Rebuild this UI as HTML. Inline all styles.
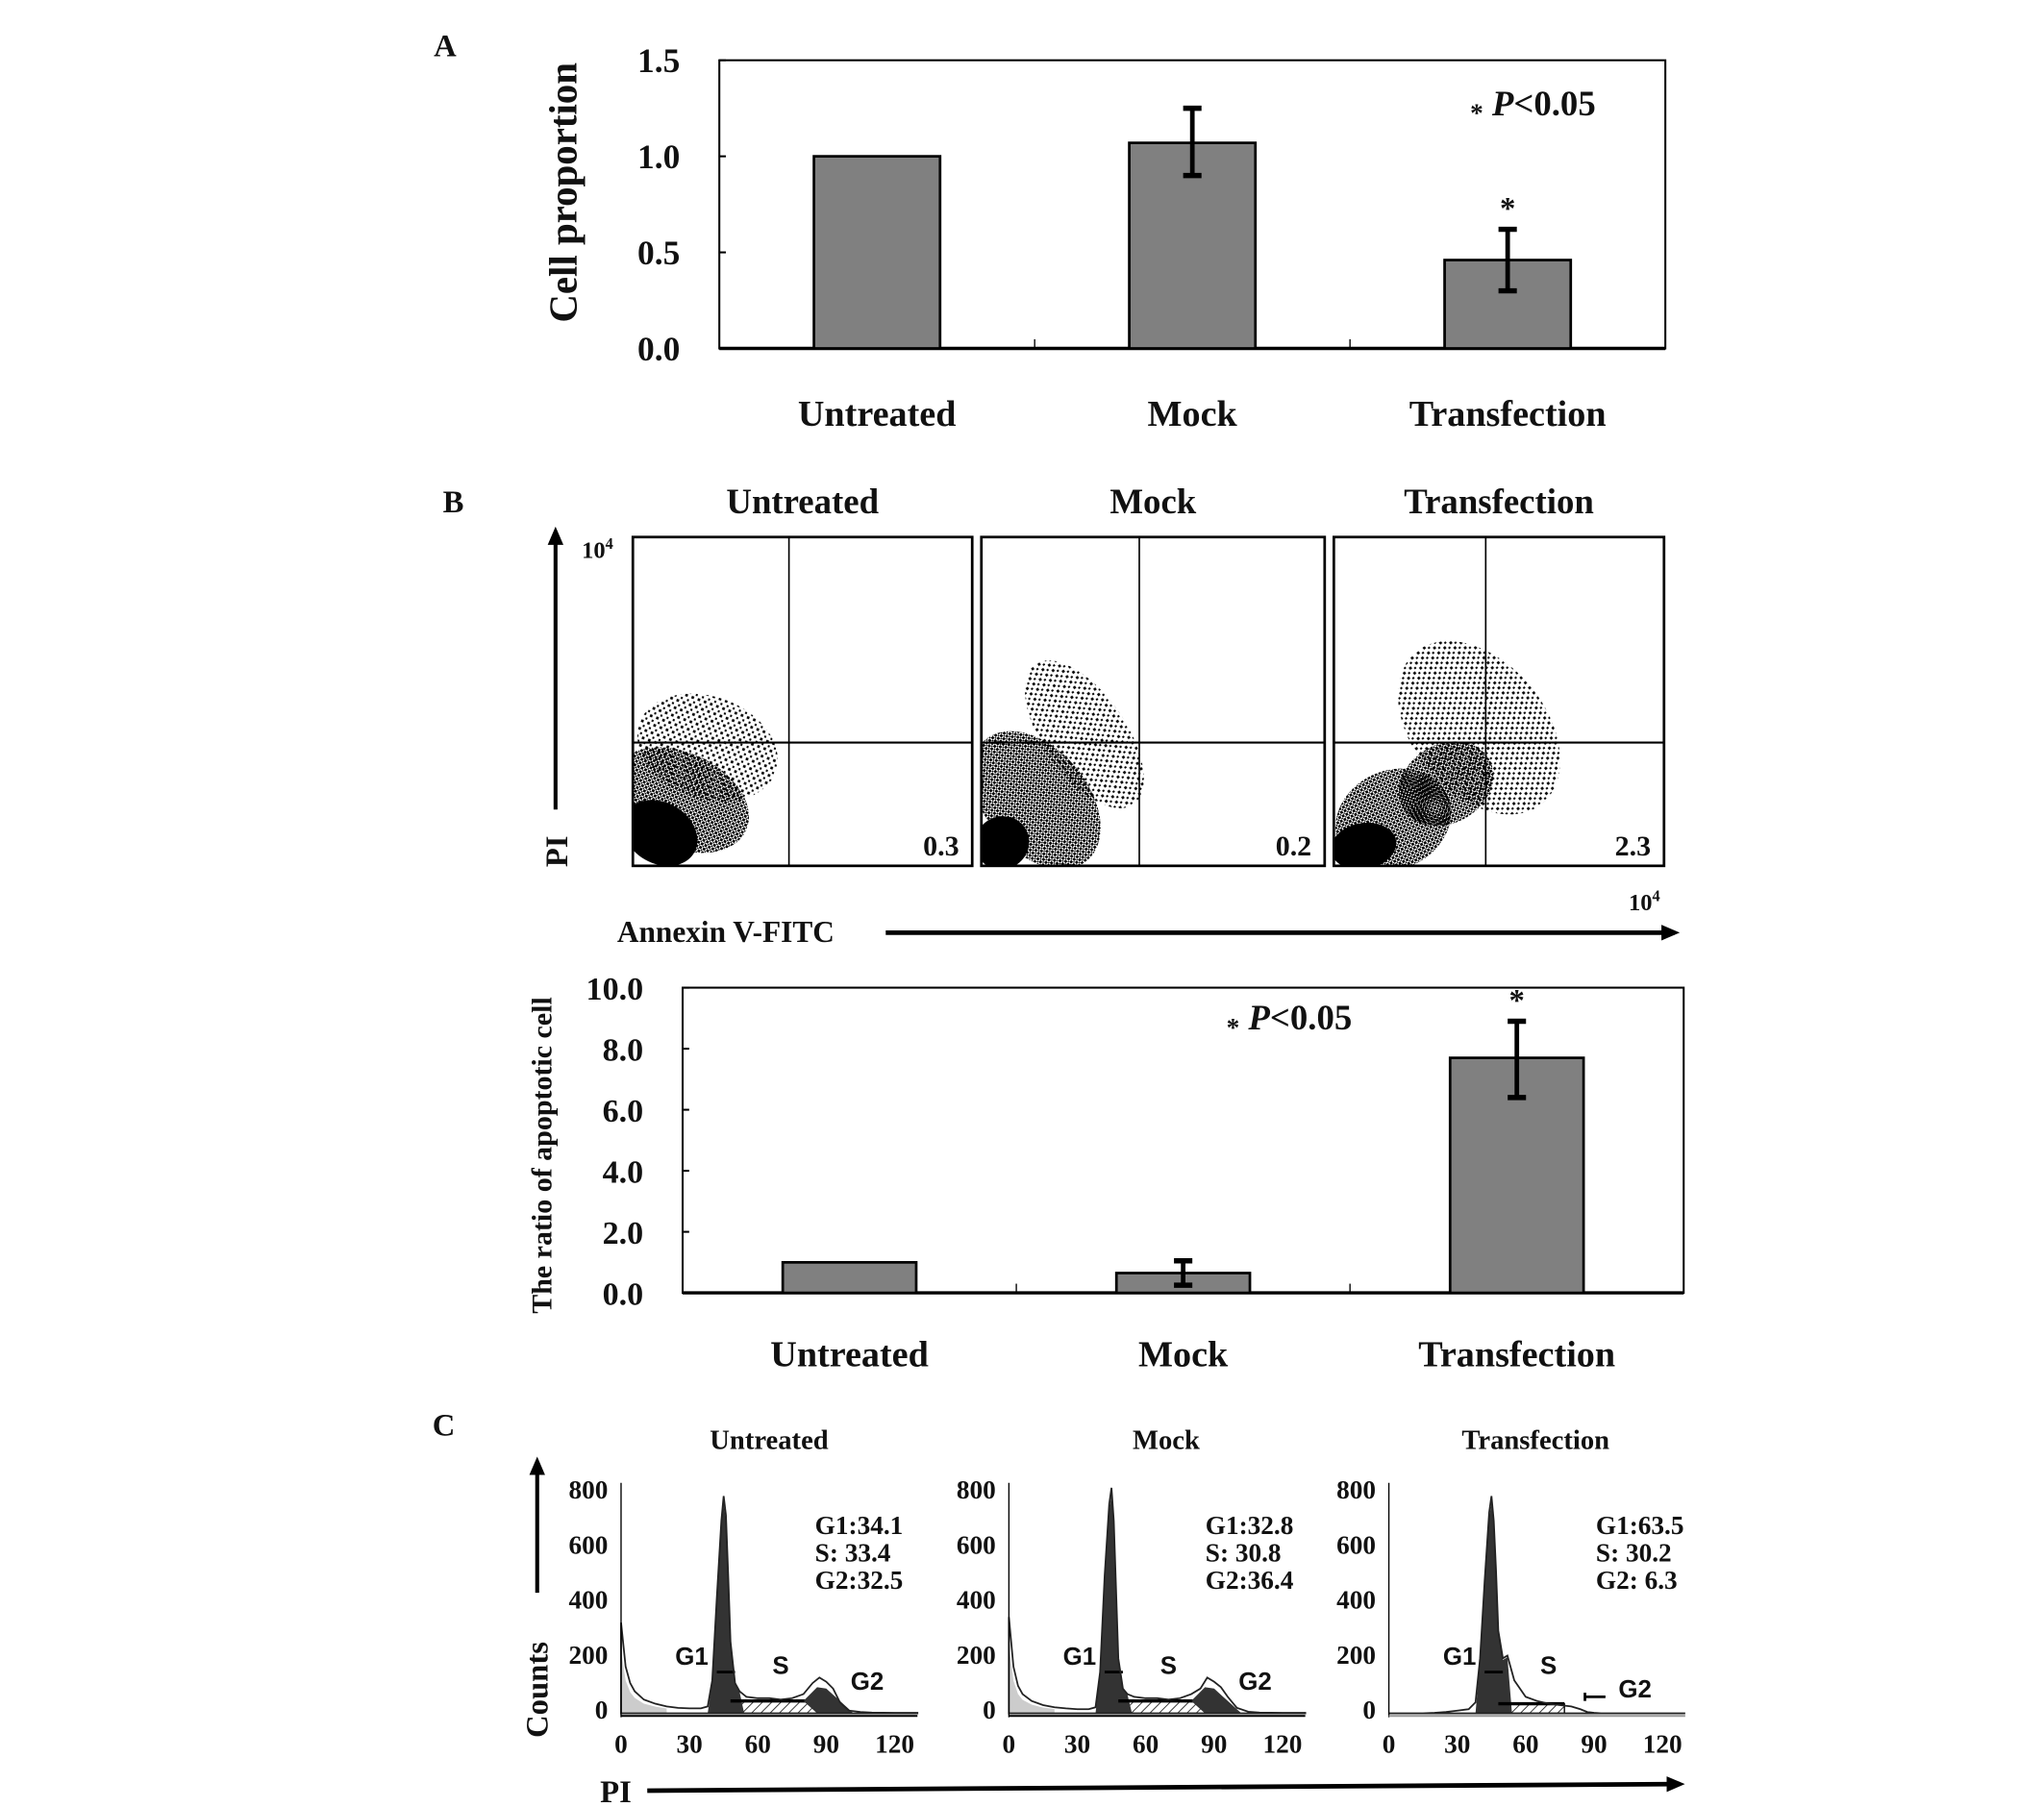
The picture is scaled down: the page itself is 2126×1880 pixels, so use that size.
<!DOCTYPE html>
<html><head><meta charset="utf-8"><style>
html,body{margin:0;padding:0;background:#fff;}
svg{display:block;}
text{font-family:"Liberation Serif",serif;fill:#111;}
.b{font-weight:bold;}
.sans{font-family:"Liberation Sans",sans-serif;font-weight:bold;}
</style></head><body>
<svg id="fig" width="2126" height="1880" viewBox="0 0 1560 1379.5" preserveAspectRatio="none" xmlns="http://www.w3.org/2000/svg">
<defs>
<pattern id="dots" width="3" height="3" patternUnits="userSpaceOnUse"><rect x="0" y="0" width="2" height="2" fill="#000"/><rect x="2" y="2" width="1" height="1" fill="#000"/></pattern>
<pattern id="sparse" width="6" height="5" patternUnits="userSpaceOnUse"><rect x="1" y="1" width="2" height="2" fill="#000"/><rect x="4" y="3.5" width="1.6" height="1.6" fill="#000"/></pattern>
<pattern id="hatch" width="5" height="5" patternUnits="userSpaceOnUse" patternTransform="rotate(45)"><line x1="0" y1="0" x2="0" y2="5" stroke="#222" stroke-width="1.3"/></pattern>
<marker id="ah" markerWidth="14" markerHeight="12" refX="10" refY="6" orient="auto" markerUnits="userSpaceOnUse"><path d="M0,0 L14,6 L0,12 Z" fill="#000"/></marker>
</defs>
<g id="root"></g>
</svg>
<script>
// ---------- Data ----------
const catsA = ["Untreated","Mock","Transfection"];
const valsA = [1.0, 1.07, 0.46];
const errHiA = [null, 1.25, 0.62];
const errLoA = [null, 0.90, 0.30];
const ticksA = [0.0, 0.5, 1.0, 1.5];

const catsB = ["Untreated","Mock","Transfection"];
const valsB = [1.0, 0.65, 7.7];
const errHiB = [null, 1.05, 8.9];
const errLoB = [null, 0.25, 6.4];
const ticksB = [0.0, 2.0, 4.0, 6.0, 8.0, 10.0];

const flowTitles = ["Untreated","Mock","Transfection"];
const flowLR = ["0.3","0.2","2.3"];
// cluster blobs in fraction units (x, y from bottom-left), rx, ry, angle(deg), density
const flowClusters = [
  [[0.22,0.36,0.15,0.22,-70,"sparse"],[0.14,0.2,0.14,0.22,-65,"dots"],[0.08,0.1,0.09,0.12,-60,"solid"]],
  [[0.30,0.40,0.12,0.26,-35,"sparse"],[0.16,0.2,0.15,0.24,-40,"dots"],[0.06,0.07,0.08,0.08,-30,"solid"]],
  [[0.44,0.42,0.20,0.30,-40,"sparse"],[0.34,0.25,0.15,0.12,-30,"dots"],[0.18,0.14,0.18,0.15,-25,"dots"],[0.09,0.06,0.10,0.07,-10,"solid"]]
];

const histTitles = ["Untreated","Mock","Transfection"];
const histStats = [["G1:34.1","S:  33.4","G2:32.5"],["G1:32.8","S:  30.8","G2:36.4"],["G1:63.5","S:  30.2","G2: 6.3"]];
const histYTicks = [0,200,400,600,800];
const histXTicks = [0,30,60,90,120];
const histChannels = [0,2,4,6,10,15,20,25,30,35,38,40,42,44,45,46,47,48,50,52,55,60,65,70,75,80,84,87,90,93,96,100,105,110,120,130];
const histCounts = [
  [330,170,110,80,50,35,25,20,18,18,25,120,420,700,790,720,500,260,110,80,60,55,55,50,55,70,110,130,115,90,40,10,5,3,2,2],
  [350,170,100,70,45,30,22,18,15,15,22,150,500,760,820,700,450,200,90,70,60,55,55,50,55,70,90,130,115,95,60,20,6,3,2,2],
  [0,0,0,0,0,0,2,5,10,15,40,200,480,730,790,700,520,300,200,210,120,60,45,35,30,25,15,5,2,0,0,0,0,0,0,0]
];

// ---------- helpers ----------
const NS="http://www.w3.org/2000/svg";
const root=document.getElementById('root');
function el(tag,attrs,parent){const e=document.createElementNS(NS,tag);for(const k in attrs)e.setAttribute(k,attrs[k]);(parent||root).appendChild(e);return e;}
function txt(s,attrs,parent){const e=el('text',attrs,parent);e.textContent=s;return e;}

// ---------- bar chart ----------
function barChart(cfg){
  const g=el('g',{});
  
  
  const {x0,x1,y0,y1,max}=cfg;
  const ys=v=>y1-(v/max)*(y1-y0);
  const bw=(x1-x0)/cfg.cats.length;
  const xc=i=>x0+bw*(i+0.5);
  const box=el('rect',{x:x0,y:y0,width:x1-x0,height:y1-y0,fill:'none',stroke:'#000','stroke-width':1.5},g);
  
  
  el('line',{x1:x0,y1:y1,x2:x1,y2:y1,stroke:'#000','stroke-width':2.5},g);
  cfg.ticks.forEach(t=>{
    el('line',{x1:x0,y1:ys(t),x2:x0+5,y2:ys(t),stroke:'#000','stroke-width':1.5},g);
    const tl=txt(t.toFixed(1),{x:x0-cfg.tickGap,y:ys(t)+9,'text-anchor':'end','font-size':cfg.tickSize,class:'b'},g);
    
    
  });
  for(let i=1;i<cfg.cats.length;i++){el('line',{x1:x0+bw*i,y1:y1,x2:x0+bw*i,y2:y1-7,stroke:'#000','stroke-width':1},g);}
  cfg.cats.forEach((c,i)=>{
    const w=bw*0.4;
    const r=el('rect',{x:xc(i)-w/2,y:ys(cfg.vals[i]),width:w,height:y1-ys(cfg.vals[i]),fill:'#808080',stroke:'#000','stroke-width':2},g);
    
    
    if(cfg.hi[i]!=null){
      const e=el('g',{},g);
      
      
      el('line',{x1:xc(i),y1:ys(cfg.hi[i]),x2:xc(i),y2:ys(cfg.lo[i]),stroke:'#000','stroke-width':3.5},e);
      el('line',{x1:xc(i)-7,y1:ys(cfg.hi[i]),x2:xc(i)+7,y2:ys(cfg.hi[i]),stroke:'#000','stroke-width':4},e);
      el('line',{x1:xc(i)-7,y1:ys(cfg.lo[i]),x2:xc(i)+7,y2:ys(cfg.lo[i]),stroke:'#000','stroke-width':4},e);
    }
    const cl=txt(c,{x:xc(i),y:cfg.catY,'text-anchor':'middle','font-size':28,class:'b'},g);
    
    
  });
  const st=txt('*',{x:xc(2),y:ys(cfg.hi[2])-8,'text-anchor':'middle','font-size':24,class:'b'},g);
  
  
  const pt=el('text',{x:cfg.px,y:cfg.py,'font-size':cfg.pSize,class:'b'},g);
  pt.innerHTML='<tspan font-size="20" dy="5">*</tspan><tspan dy="-5"> </tspan><tspan font-style="italic">P</tspan>&lt;0.05';
  
  
  const yt=txt(cfg.ytitle,{x:0,y:0,transform:`translate(${cfg.ytx},${cfg.yty}) rotate(-90)`,'text-anchor':'middle','font-size':cfg.ytSize,class:'b'},g);
  
  
}

// Panel A
let pl=txt('A',{x:331,y:43,'font-size':24,class:'b'});


barChart({name:'panel-a-chart',cats:catsA,vals:valsA,hi:errHiA,lo:errLoA,ticks:ticksA,max:1.5,x0:549,x1:1271,y0:46,y1:266,tickGap:30,tickSize:26,catY:325,px:1122,py:88,pSize:27,ytitle:'Cell proportion',ytx:440,yty:147,ytSize:30});

// Panel B label
pl=txt('B',{x:338,y:391,'font-size':24,class:'b'});



// Flow panels
const flowBoxes=[[483,742],[749,1011],[1018,1270]];
const fy0=410,fy1=661;
const fDivX=[0.46,0.46,0.46], fDivY=0.375;
flowBoxes.forEach((b,i)=>{
  const g=el('g',{});
  
  
  const [x0,x1]=b;
  const fx=f=>x0+f*(x1-x0), fy=f=>fy1-f*(fy1-fy0);
  const clip=el('clipPath',{id:'fc'+i},g);el('rect',{x:x0,y:fy0,width:x1-x0,height:fy1-fy0},clip);
  const cg=el('g',{'clip-path':`url(#fc${i})`},g);
  flowClusters[i].forEach(c=>{
    const [cx,cy,rx,ry,a,d]=c;
    const e=el('ellipse',{cx:fx(cx),cy:fy(cy),rx:rx*(x1-x0),ry:ry*(fy1-fy0),transform:`rotate(${a} ${fx(cx)} ${fy(cy)})`,fill:d==='solid'?'#000':`url(#${d})`},cg);
    
    
  });
  el('rect',{x:x0,y:fy0,width:x1-x0,height:fy1-fy0,fill:'none',stroke:'#000','stroke-width':2},g);
  el('line',{x1:fx(fDivX[i]),y1:fy0,x2:fx(fDivX[i]),y2:fy1,stroke:'#000','stroke-width':1.2},g);
  el('line',{x1:x0,y1:fy(fDivY),x2:x1,y2:fy(fDivY),stroke:'#000','stroke-width':1.5},g);
  const n=txt(flowLR[i],{x:x1-10,y:fy1-8,'text-anchor':'end','font-size':22,class:'b'},g);
  
  
  const t=txt(flowTitles[i],{x:(x0+x1)/2,y:392,'text-anchor':'middle','font-size':27,class:'b'},g);
  
  
});
let a=el('line',{x1:424,y1:618,x2:424,y2:406,stroke:'#000','stroke-width':3,'marker-end':'url(#ah)'});

let t=txt('PI',{x:0,y:0,transform:'translate(433,662) rotate(-90)','font-size':24,class:'b'});

t=el('text',{x:444,y:426,'font-size':18,class:'b'});t.innerHTML='10<tspan font-size="12" dy="-7">4</tspan>';

t=el('text',{x:1243,y:695,'font-size':18,class:'b'});t.innerHTML='10<tspan font-size="12" dy="-7">4</tspan>';

t=txt('Annexin V-FITC',{x:471,y:719,'font-size':23,class:'b'});

a=el('line',{x1:676,y1:712,x2:1278,y2:712,stroke:'#000','stroke-width':3.5,'marker-end':'url(#ah)'});


// Panel B bar chart
barChart({name:'panel-b-chart',cats:catsB,vals:valsB,hi:errHiB,lo:errLoB,ticks:ticksB,max:10,x0:521,x1:1285,y0:754,y1:987,tickGap:30,tickSize:25,catY:1043,px:936,py:786,pSize:27,ytitle:'The ratio of apoptotic cell',ytx:421,yty:882,ytSize:22});

// Panel C
pl=txt('C',{x:330,y:1096,'font-size':24,class:'b'});


const histAxes=[474,770,1060];
const hy0=1308,hyPer=0.21,hxPer=1.74;
histAxes.forEach((ax,i)=>{
  const g=el('g',{});
  
  
  const X=v=>ax+v*hxPer, Y=v=>hy0-v*hyPer;
  let d='M'+X(0)+','+Y(0);
  histChannels.forEach((c,k)=>{d+=' L'+X(c)+','+Y(histCounts[i][k]);});
  d+=' L'+X(130)+','+Y(0)+' Z';
  if(i<2){
    let dd='M'+X(0)+','+Y(0);
    histChannels.forEach((c,k)=>{if(c<=20)dd+=' L'+X(c)+','+Y(histCounts[i][k]*0.7);});
    dd+=' L'+X(20)+','+Y(0)+' Z';
    el('path',{d:dd,fill:'#ccc'},g);
  }
  const sH=[45,45,35][i];
  const hs=el('rect',{x:X(48),y:Y(sH),width:X([86,86,77][i])-X(48),height:Y(0)-Y(sH),fill:'url(#hatch)',stroke:'#000','stroke-width':1},g);
  
  let g1='M'+X(38)+','+Y(0);
  histChannels.forEach((c,k)=>{if(c>=40&&c<=52)g1+=' L'+X(c)+','+Y(histCounts[i][k]*0.97);});
  g1+=' L'+X(54)+','+Y(0)+' Z';
  const p1=el('path',{d:g1,fill:'#333'},g);
  
  el('line',{x1:X(42),y1:Y(150),x2:X(50),y2:Y(150),stroke:'#000','stroke-width':2},g);
  el('line',{x1:X(48),y1:Y(sH),x2:X([86,86,77][i]),y2:Y(sH),stroke:'#000','stroke-width':2.5},g);
  if(i<2){
    let g2='M'+X(80)+','+Y(sH)+' L'+X(86)+','+Y(95)+' L'+X(90)+','+Y(90)+' L'+X(96)+','+Y(45)+' L'+X(102)+','+Y(0)+' L'+X(86)+','+Y(0)+' Z';
    const p2=el('path',{d:g2,fill:'#333'},g);
    
  } else {
    el('line',{x1:X(86),y1:Y(60),x2:X(95),y2:Y(60),stroke:'#000','stroke-width':2},g);
    el('line',{x1:X(86),y1:Y(45),x2:X(86),y2:Y(75),stroke:'#000','stroke-width':2},g);
  }
  const env=el('path',{d:d,fill:'none',stroke:'#222','stroke-width':1.3},g);
  
  el('line',{x1:X(0),y1:Y(800)-8,x2:X(0),y2:Y(0)+3,stroke:'#000','stroke-width':1},g);
  el('line',{x1:X(0),y1:Y(0)+2,x2:X(130),y2:Y(0)+2,stroke:i===2?'#999':'#000','stroke-width':1.5},g);
  histYTicks.forEach(v=>{
    const l=txt(String(v),{x:ax-10,y:Y(v)+4,'text-anchor':'end','font-size':20,class:'b'},g);
    
  });
  histXTicks.forEach(v=>{
    const l=txt(String(v),{x:X(v),y:1338,'text-anchor':'middle','font-size':20,class:'b'},g);
    
  });
  const ti=txt(histTitles[i],{x:[587,890,1172][i],y:1106,'text-anchor':'middle','font-size':21,class:'b'},g);
  
  histStats[i].forEach((s,k)=>{
    const l=txt(s,{x:[622,920,1218][i],y:1171+k*21,'font-size':20,class:'b','xml:space':'preserve'},g);
    
  });
  const lbl=[["G1",X(31),1271],["S",X(70),1278],["G2",X(108),[1290,1290,1296][i]]];
  lbl.forEach(q=>{
    const l=txt(q[0],{x:q[1],y:q[2],'text-anchor':'middle','font-size':19,class:'sans'},g);
    
  });
});
a=el('line',{x1:410,y1:1216,x2:410,y2:1116,stroke:'#000','stroke-width':3,'marker-end':'url(#ah)'});

t=txt('Counts',{x:0,y:0,transform:'translate(418,1290) rotate(-90)','text-anchor':'middle','font-size':24,class:'b'});

t=txt('PI',{x:458,y:1376,'font-size':24,class:'b'});

a=el('line',{x1:494,y1:1367,x2:1282,y2:1362,stroke:'#000','stroke-width':3.5,'marker-end':'url(#ah)'});

</script>
</body></html>
